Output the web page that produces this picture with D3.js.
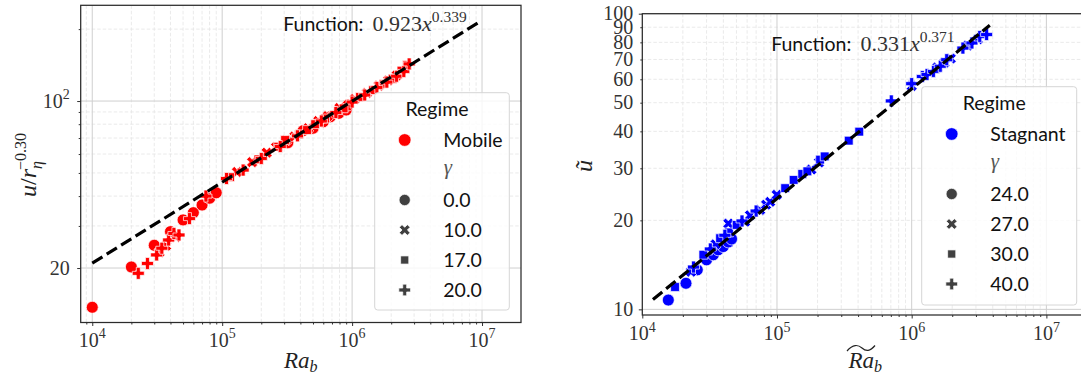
<!DOCTYPE html>
<html>
<head>
<meta charset="utf-8">
<script src="https://cdn.jsdelivr.net/npm/d3@7"></script>
<style>
  body { margin: 0; background: #fff; }
  svg { display: block; }
</style>
</head>
<body>
<svg id="chart" width="1081" height="378"></svg>
<script>
// ---------- Mobile regime (left panel) ----------
const mobileGammas = ["0.0", "10.0", "17.0", "20.0"];
const mobileRaG0  = [1e4, 2e4, 3e4, 4e4, 5e4, 6e4, 7e4, 8e4, 9e4, 3.2e5, 4.2e5, 5e5, 6e5, 6.8e5, 7.9e5, 9e5, 9.3e5];
const mobileUG0   = [13.7, 20.2, 24.9, 28.4, 31.8, 34.1, 36.7, 39.2, 41.3, 66.9, 75.2, 76.9, 81.9, 85.9, 88.8, 91.7, 96.2];
const mobileRaG10 = [3.3e4, 3.7e4, 4.4e4, 1.3e5, 1.7e5, 2.2e5, 2.6e5, 3.1e5, 3.6e5, 4.6e5, 5.5e5, 6.5e5, 8e5, 1.05e6, 1.3e6, 1.6e6, 1.9e6, 2.2e6];
const mobileUG10  = [23.3, 24.8, 27.0, 50.5, 55.5, 60.8, 64.0, 68.5, 71.0, 77.0, 82.5, 86.5, 93.5, 102, 108, 116, 122, 128];
const mobileRaG17 = [1.15e5, 1.9e5, 2.7e5, 3.05e5, 3.9e5, 4.5e5, 5.2e5, 6.2e5, 8.6e5, 1.15e6, 1.45e6, 1.75e6, 2.05e6, 2.4e6, 2.65e6];
const mobileUG17  = [48.0, 57.0, 64.4, 68.7, 72.5, 75.6, 80.0, 84.5, 93.2, 104, 111, 118, 124, 134, 141.5];
const mobileRaG20 = [2.26e4, 2.66e4, 3.13e4, 3.43e4, 3.87e4, 4.25e4, 4.65e4, 5.6e4, 7.5e4, 1.08e5, 1.45e5, 2.0e5, 2.8e5, 3.8e5, 5.8e5, 7.5e5, 1.0e6, 1.25e6, 1.55e6, 1.85e6, 2.2e6, 2.5e6, 2.75e6];
const mobileUG20  = [19.0, 20.9, 22.7, 24.2, 26.2, 27.9, 27.5, 32.2, 40.0, 47.4, 51.4, 57.5, 64.5, 71.5, 82.5, 89.5, 99, 106, 114, 120, 127, 133, 143];
const mobileFitCoef  = [0.923, 0.339];
const mobileFitRange = [1e4, 9.5e6];

// ---------- Stagnant regime (right panel) ----------
const stagnantGammas = ["24.0", "27.0", "30.0", "40.0"];
const stagRaG24 = [1.56e4, 2.11e4, 2.56e4, 3.0e4, 3.37e4, 3.66e4, 3.99e4, 4.35e4, 4.6e4];
const stagUG24  = [10.75, 12.25, 13.6, 14.7, 15.3, 15.9, 16.3, 16.9, 17.3];
const stagRaG27 = [2.3e4, 3.5e4, 4.35e4, 5.8e4, 6.3e4, 7.5e4, 8.3e4, 8.9e4, 9.95e4, 1.8e5, 2.05e5, 1.0e6, 1.55e6, 1.75e6, 1.95e6, 2.6e6, 3.1e6];
const stagUG27  = [13.4, 16.6, 19.5, 19.8, 20.8, 21.7, 22.6, 23.1, 24.4, 29.7, 31.4, 57.0, 65.8, 68.3, 70.5, 78.0, 82.0];
const stagRaG30 = [1.75e4, 2.84e4, 3.78e4, 4.4e4, 5.02e4, 1.15e5, 1.33e5, 1.54e5, 1.68e5, 2.09e5, 2.26e5, 3.41e5, 4.08e5];
const stagUG30  = [11.9, 15.3, 17.4, 18.2, 19.3, 25.7, 27.4, 28.7, 29.3, 32.1, 32.9, 37.2, 39.9];
const stagRaG40 = [2.4e4, 3.2e4, 4.1e4, 5.5e4, 7.0e4, 7.06e5, 1.0e6, 1.2e6, 1.3e6, 1.45e6, 1.63e6, 1.82e6, 2.4e6, 2.8e6, 3.2e6, 3.6e6];
const stagUG40  = [13.9, 16.0, 17.8, 19.9, 21.5, 50.7, 58.0, 61.3, 62.3, 63.8, 66.4, 69.9, 76.5, 79.6, 83.8, 85.0];
const stagnantFitCoef  = [0.331, 0.371];
const stagnantFitRange = [1.2e4, 3.8e6];

// ---------- tick values ----------
const xMajorTicks = [1e4, 1e5, 1e6, 1e7];
const leftYMajor  = [20, 100];
const leftYMinor  = [30, 40, 50, 60, 70, 80, 90, 200];
const rightYMajor = [10, 100];
const rightYMinor = [20, 30, 40, 50, 60, 70, 80, 90];
const rightYLabels = [10, 20, 30, 40, 50, 60, 70, 80, 90, 100];

const svg = d3.select("#chart");
const SERIF = "'Liberation Serif', 'DejaVu Serif', serif";
const SANS = "Lato, 'Open Sans', sans-serif";

// marker shapes, one per gamma level
const circleSym = d3.symbol().type(d3.symbolCircle);
const crossSym = d3.symbol().type(d3.symbolCross);
const squareSym = d3.symbol().type(d3.symbolSquare);
const markerDefs = [
  { path: circleSym.size(112)(), rot: 0 },
  { path: crossSym.size(76)(), rot: 45 },
  { path: squareSym.size(78)(), rot: 0 },
  { path: crossSym.size(80)(), rot: 0 }
];
const legendMarkers = [
  { path: circleSym.size(100)(), rot: 0 },
  { path: crossSym.size(72)(), rot: 45 },
  { path: squareSym.size(66)(), rot: 0 },
  { path: crossSym.size(76)(), rot: 0 }
];

function minorTicksX(domain) {
  const out = [];
  for (let e = 3; e <= 7; e++) {
    for (let m = 2; m <= 9; m++) {
      const v = m * Math.pow(10, e);
      if (v >= domain[0] && v <= domain[1]) out.push(v);
    }
  }
  return out;
}

function drawPanel(cfg) {
  const x = d3.scaleLog().domain(cfg.xDomain).range([cfg.left, cfg.right]);
  const y = d3.scaleLog().domain(cfg.yDomain).range([cfg.bottom, cfg.top]);
  const g = svg.append("g");
  const xMinor = minorTicksX(cfg.xDomain);
  const xMaj = xMajorTicks.filter(v => v >= cfg.xDomain[0] && v <= cfg.xDomain[1]);

  // clip for plot area
  const clipId = "clip-" + cfg.id;
  svg.append("clipPath").attr("id", clipId)
    .append("rect").attr("x", cfg.left).attr("y", cfg.top)
    .attr("width", cfg.right - cfg.left).attr("height", cfg.bottom - cfg.top);

  const grid = g.append("g").attr("clip-path", `url(#${clipId})`);
  // minor grid (dashed)
  grid.selectAll(".gxm").data(xMinor).join("line")
    .attr("x1", d => x(d)).attr("x2", d => x(d))
    .attr("y1", cfg.top).attr("y2", cfg.bottom)
    .attr("stroke", "#e4e4e4").attr("stroke-width", 0.8).attr("stroke-dasharray", "3.5,2");
  grid.selectAll(".gym").data(cfg.yMinor).join("line")
    .attr("y1", d => y(d)).attr("y2", d => y(d))
    .attr("x1", cfg.left).attr("x2", cfg.right)
    .attr("stroke", "#e4e4e4").attr("stroke-width", 0.8).attr("stroke-dasharray", "3.5,2");
  // major grid (solid)
  grid.selectAll(".gxM").data(xMaj).join("line")
    .attr("x1", d => x(d)).attr("x2", d => x(d))
    .attr("y1", cfg.top).attr("y2", cfg.bottom)
    .attr("stroke", "#cfcfcf").attr("stroke-width", 1);
  grid.selectAll(".gyM").data(cfg.yMajor).join("line")
    .attr("y1", d => y(d)).attr("y2", d => y(d))
    .attr("x1", cfg.left).attr("x2", cfg.right)
    .attr("stroke", "#cfcfcf").attr("stroke-width", 1);

  // fit line
  const [a, b] = cfg.fitCoef;
  const fitPts = cfg.fitRange.map(v => [v, a * Math.pow(v, b)]);

  // points
  const pts = g.append("g").attr("clip-path", `url(#${clipId})`);
  cfg.series.forEach((s, i) => {
    const data = s.ra.map((r, k) => [r, s.u[k]]);
    pts.selectAll(null).data(data).join("path")
      .attr("d", markerDefs[i].path)
      .attr("transform", d => `translate(${x(d[0])},${y(d[1])}) rotate(${markerDefs[i].rot})`)
      .attr("fill", cfg.color).attr("stroke", "#fff").attr("stroke-width", 0.7);
  });

  g.append("path")
    .attr("clip-path", `url(#${clipId})`)
    .attr("d", d3.line().x(d => x(d[0])).y(d => y(d[1]))(fitPts))
    .attr("fill", "none").attr("stroke", "#000").attr("stroke-width", 3.2)
    .attr("stroke-dasharray", "12,5");

  // axes ticks
  const xAxisMajor = d3.axisBottom(x).tickValues(xMaj).tickSize(3.5).tickFormat(() => "");
  const xAxisMinor = d3.axisBottom(x).tickValues(xMinor).tickSize(2).tickFormat(() => "");
  const yAxisMajor = d3.axisLeft(y).tickValues(cfg.yMajor).tickSize(3.5).tickFormat(() => "");
  const yAxisMinor = d3.axisLeft(y).tickValues(cfg.yMinor).tickSize(2).tickFormat(() => "");
  [xAxisMajor, xAxisMinor].forEach(ax => {
    const a2 = g.append("g").attr("transform", `translate(0,${cfg.bottom})`).call(ax);
    a2.select(".domain").remove();
    a2.selectAll("line").attr("stroke", "#333");
  });
  [yAxisMajor, yAxisMinor].forEach(ax => {
    const a2 = g.append("g").attr("transform", `translate(${cfg.left},0)`).call(ax);
    a2.select(".domain").remove();
    a2.selectAll("line").attr("stroke", "#333");
  });

  // spines
  g.append("rect").attr("x", cfg.left).attr("y", cfg.top)
    .attr("width", cfg.right - cfg.left).attr("height", cfg.bottom - cfg.top)
    .attr("fill", "none").attr("stroke", "#2b2b2b").attr("stroke-width", 1.25);

  // x tick labels 10^n
  xMaj.forEach(v => {
    const t = g.append("text").attr("x", x(v)).attr("y", cfg.bottom + cfg.xLabelOffset)
      .attr("text-anchor", "middle").attr("font-family", SERIF).attr("font-size", 20)
      .attr("fill", "#333");
    t.append("tspan").text("10");
    t.append("tspan").attr("font-size", 14).attr("dy", -8.5).text(String(Math.round(Math.log10(v))));
  });

  // y tick labels
  cfg.yLabels.forEach(lab => {
    const t = g.append("text").attr("x", cfg.left - cfg.yLabelGap).attr("y", y(lab.v) + 6.5)
      .attr("text-anchor", "end").attr("font-family", SERIF).attr("font-size", 20)
      .attr("fill", "#333");
    if (lab.exp) {
      t.append("tspan").text(lab.base);
      t.append("tspan").attr("font-size", 14).attr("dy", -8.5).text(lab.exp);
    } else {
      t.text(lab.base);
    }
  });

  // fit annotation
  const ft = g.append("text").attr("x", cfg.fitText[0]).attr("y", cfg.fitText[1])
    .attr("font-size", 19.5).attr("fill", "#111");
  ft.append("tspan").attr("font-family", SANS).text("Function:");
  ft.append("tspan").attr("font-family", SERIF).attr("font-size", 22).attr("dx", 9).attr("fill", "#333")
    .text(a.toFixed(3));
  ft.append("tspan").attr("font-family", SERIF).attr("font-size", 22).attr("font-style", "italic").attr("fill", "#333").text("x");
  ft.append("tspan").attr("font-family", SERIF).attr("font-size", 15.5).attr("dy", -9)
    .attr("fill", "#333").text(b.toFixed(3));

  // legend
  const L = cfg.legend;
  const lg = g.append("g");
  lg.append("rect").attr("x", L.x).attr("y", L.y).attr("width", L.w).attr("height", L.h)
    .attr("rx", 3).attr("fill", "#fff").attr("fill-opacity", 0.8)
    .attr("stroke", "#d6d6d6").attr("stroke-width", 1);
  lg.append("text").attr("x", L.x + L.w / 2 - 5).attr("y", L.y + 16.6 + 6.5)
    .attr("text-anchor", "middle").attr("font-family", SANS).attr("font-size", 19.5)
    .attr("fill", "#111").text("Regime");
  const rowY = k => L.y + 47.3 + 30 * k;
  lg.append("path").attr("d", circleSym.size(126)())
    .attr("transform", `translate(${L.x + 30},${rowY(0)})`)
    .attr("fill", cfg.color).attr("stroke", "#fff").attr("stroke-width", 0.7);
  lg.append("text").attr("x", L.x + 68.6).attr("y", rowY(0) + 6.5)
    .attr("font-family", SANS).attr("font-size", 19.5).attr("fill", "#111").text(cfg.regime);
  lg.append("text").attr("x", L.x + 69).attr("y", rowY(1) + 4)
    .attr("font-family", SERIF).attr("font-style", "italic").attr("font-size", 21)
    .attr("fill", "#555").text("γ");
  cfg.gammas.forEach((gm, k) => {
    lg.append("path").attr("d", legendMarkers[k].path)
      .attr("transform", `translate(${L.x + 30},${rowY(k + 2)}) rotate(${legendMarkers[k].rot})`)
      .attr("fill", "#404040").attr("stroke", "#fff").attr("stroke-width", 0.7);
    lg.append("text").attr("x", L.x + 68.6).attr("y", rowY(k + 2) + 6.5)
      .attr("font-family", SANS).attr("font-size", 19.5).attr("fill", "#111").text(gm);
  });
  return { x, y };
}

// left panel: mobile
drawPanel({
  id: "mobile",
  left: 80.7, right: 521, top: 5.3, bottom: 322.5,
  xDomain: [Math.pow(10, 3.911), Math.pow(10, 7.3)],
  yDomain: [11.83, 251.6],
  yMajor: leftYMajor, yMinor: leftYMinor,
  yLabels: [{ v: 100, base: "10", exp: "2" }, { v: 20, base: "20" }],
  yLabelGap: 11, xLabelOffset: 24,
  color: "#ff0000",
  series: [
    { ra: mobileRaG0, u: mobileUG0 },
    { ra: mobileRaG10, u: mobileUG10 },
    { ra: mobileRaG17, u: mobileUG17 },
    { ra: mobileRaG20, u: mobileUG20 }
  ],
  fitCoef: mobileFitCoef, fitRange: mobileFitRange,
  fitText: [283.3, 30.5],
  regime: "Mobile", gammas: mobileGammas,
  legend: { x: 374.7, y: 92.7, w: 134.6, h: 217.3 }
});

// right panel: stagnant
drawPanel({
  id: "stagnant",
  left: 642.3, right: 1088, top: 13.7, bottom: 315,
  xDomain: [1e4, Math.pow(10, 7.309)],
  yDomain: [9.57, 100],
  yMajor: rightYMajor, yMinor: rightYMinor,
  yLabels: rightYLabels.map(v => ({ v, base: String(v) })),
  yLabelGap: 9, xLabelOffset: 25,
  color: "#0000ff",
  series: [
    { ra: stagRaG24, u: stagUG24 },
    { ra: stagRaG27, u: stagUG27 },
    { ra: stagRaG30, u: stagUG30 },
    { ra: stagRaG40, u: stagUG40 }
  ],
  fitCoef: stagnantFitCoef, fitRange: stagnantFitRange,
  fitText: [771.2, 50.5],
  regime: "Stagnant", gammas: stagnantGammas,
  legend: { x: 921.7, y: 86.7, w: 155, h: 218.3 }
});

// axis titles
const yl = svg.append("text").attr("transform", "translate(36,165) rotate(-90)")
  .attr("text-anchor", "middle").attr("font-family", SERIF).attr("font-size", 24).attr("fill", "#222");
yl.append("tspan").attr("font-style", "italic").text("u");
yl.append("tspan").text("/");
yl.append("tspan").attr("font-style", "italic").text("r");
yl.append("tspan").attr("font-style", "italic").attr("font-size", 16).attr("dy", 6).text("η");
yl.append("tspan").attr("font-size", 16).attr("dx", -9).attr("dy", -16).text("−0.30");

const xl = svg.append("text").attr("x", 300.8).attr("y", 368).attr("text-anchor", "middle")
  .attr("font-family", SERIF).attr("font-size", 23).attr("fill", "#222");
xl.append("tspan").attr("font-style", "italic").text("Ra");
xl.append("tspan").attr("font-style", "italic").attr("font-size", 16).attr("dy", 4).text("b");

svg.append("text").attr("transform", "translate(592,166) rotate(-90)")
  .attr("text-anchor", "middle").attr("font-family", SERIF).attr("font-style", "italic")
  .attr("font-size", 24).attr("fill", "#222").text("ũ");

const xr = svg.append("text").attr("x", 865.2).attr("y", 368).attr("text-anchor", "middle")
  .attr("font-family", SERIF).attr("font-size", 23).attr("fill", "#222");
xr.append("tspan").attr("font-style", "italic").text("Ra");
xr.append("tspan").attr("font-style", "italic").attr("font-size", 16).attr("dy", 4).text("b");
// wide tilde over the label
svg.append("path")
  .attr("d", "M847,351 C853,344 858,344.5 862,348 C866,351.5 870,351.5 875,345.5")
  .attr("fill", "none").attr("stroke", "#222").attr("stroke-width", 1.2);
</script>
</body>
</html>
